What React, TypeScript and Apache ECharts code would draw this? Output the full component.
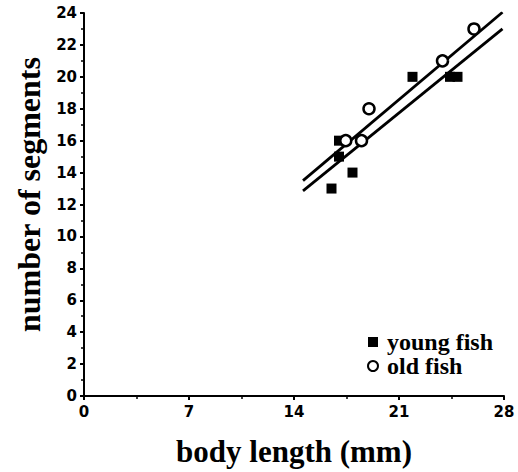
import React, { useEffect, useRef } from "react";
import * as echarts from "echarts";

const youngFish: [number, number][] = [
  [16.5, 13], [17.0, 15], [17.0, 16], [17.9, 14], [21.9, 20], [24.4, 20], [24.9, 20],
];
const oldFish: [number, number][] = [
  [17.45, 16], [18.5, 16], [19.0, 18], [23.9, 21], [26.0, 23],
];
const fitX = [14.6, 27.9];
const youngFit = [12.85, 23.0];
const oldFit = [13.5, 24.05];
const xTicks = [0, 7, 14, 21, 28];
const yTicks = [0, 2, 4, 6, 8, 10, 12, 14, 16, 18, 20, 22, 24];

export default function App() {
  const ref = useRef<HTMLDivElement>(null);
  useEffect(() => {
    if (!ref.current) return;
    const chart = echarts.init(ref.current, undefined, { renderer: "svg" });
    const labelStyle = {
      color: "#000",
      fontFamily: "DejaVu Sans",
      fontWeight: "bold" as const,
      fontSize: 15,
    };
    const titleStyle = {
      color: "#000",
      fontFamily: "Liberation Serif",
      fontWeight: "bold" as const,
    };
    chart.setOption({
      animation: false,
      backgroundColor: "#fff",
      grid: { left: 84, right: 14, top: 13, bottom: 76 },
      legend: {
        data: ["young fish", "old fish"],
        orient: "vertical",
        left: 367,
        top: 330,
        padding: 0,
        itemWidth: 10,
        itemHeight: 10,
        itemGap: 0,
        textStyle: {
          color: "#000",
          fontFamily: "Liberation Serif",
          fontWeight: "bold",
          fontSize: 24,
          lineHeight: 23,
          padding: [0, 0, 0, 4],
        },
      },
      xAxis: {
        type: "value",
        min: xTicks[0],
        max: xTicks[xTicks.length - 1],
        interval: 7,
        name: "body length (mm)",
        nameLocation: "middle",
        nameGap: 40,
        nameTextStyle: { ...titleStyle, fontSize: 31 },
        axisLine: { show: true, onZero: false, lineStyle: { color: "#000", width: 2 } },
        axisTick: { show: true, length: 4, lineStyle: { color: "#000", width: 2 } },
        minorTick: { show: true, splitNumber: 2, length: 3, lineStyle: { color: "#000", width: 1.5 } },
        axisLabel: { ...labelStyle, margin: 8 },
        splitLine: { show: false },
      },
      yAxis: {
        type: "value",
        min: yTicks[0],
        max: yTicks[yTicks.length - 1],
        interval: 2,
        name: "number of segments",
        nameLocation: "middle",
        nameGap: 35,
        nameTextStyle: { ...titleStyle, fontSize: 32, padding: [0, 0, 0, 20] },
        axisLine: { show: true, onZero: false, lineStyle: { color: "#000", width: 2 } },
        axisTick: { show: true, length: 4, lineStyle: { color: "#000", width: 2 } },
        minorTick: { show: true, splitNumber: 2, length: 3, lineStyle: { color: "#000", width: 1.5 } },
        axisLabel: { ...labelStyle, margin: 7 },
        splitLine: { show: false },
      },
      series: [
        {
          name: "young fit",
          type: "line",
          data: fitX.map((x, i) => [x, youngFit[i]]),
          symbol: "none",
          lineStyle: { color: "#000", width: 2.8 },
          z: 3,
        },
        {
          name: "old fit",
          type: "line",
          data: fitX.map((x, i) => [x, oldFit[i]]),
          symbol: "none",
          lineStyle: { color: "#000", width: 2.8 },
          z: 3,
        },
        {
          name: "young fish",
          type: "scatter",
          data: youngFish,
          symbol: "rect",
          symbolSize: 10,
          itemStyle: { color: "#000", opacity: 1 },
          z: 4,
        },
        {
          name: "old fish",
          type: "scatter",
          data: oldFish,
          symbol: "circle",
          symbolSize: 11,
          itemStyle: { color: "#fff", borderColor: "#000", borderWidth: 2.5, opacity: 1 },
          z: 5,
        },
      ],
    });
    return () => chart.dispose();
  }, []);
  return (
    <div
      ref={ref}
      style={{ position: "fixed", left: 0, top: 0, width: 518, height: 472, background: "#fff" }}
    />
  );
}
